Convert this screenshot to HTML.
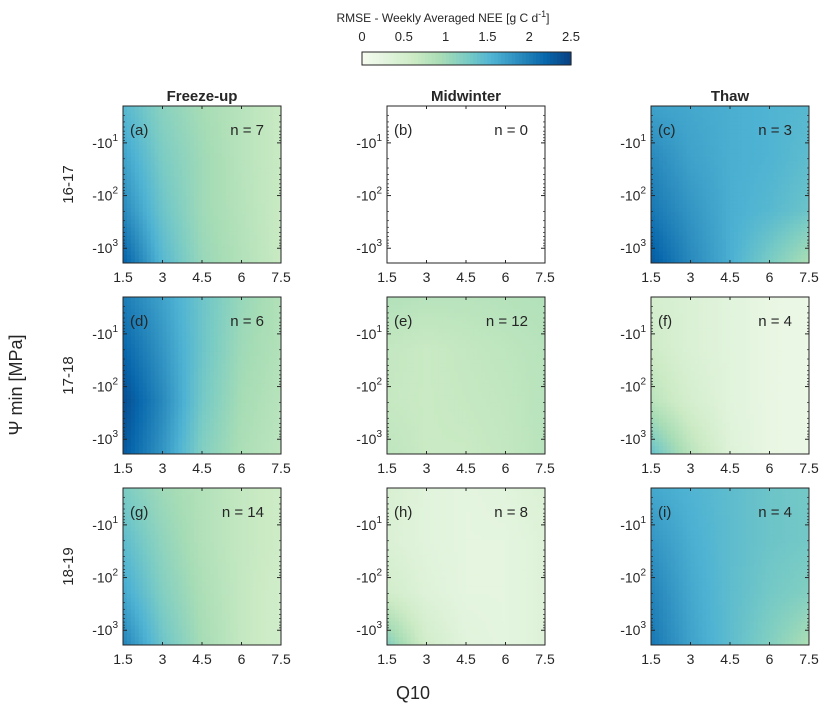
<!DOCTYPE html>
<html><head><meta charset="utf-8"><style>
body{margin:0;background:#fff;}
svg text{font-family:"Liberation Sans",Arial,sans-serif;fill:#262626;}
</style></head><body>
<svg id="fig" width="828" height="709" viewBox="0 0 828 709" xmlns="http://www.w3.org/2000/svg">
<g id="cbar"></g>
<g id="panels"></g>
<text x="413" y="699" font-size="18" text-anchor="middle">Q10</text>
<text transform="translate(22,385) rotate(-90)" font-size="18" text-anchor="middle">Ψ min [MPa]</text>
</svg>
<script>
const NS="http://www.w3.org/2000/svg";
const xTicks=[1.5,3,4.5,6,7.5];
const xTickLabels=["1.5","3","4.5","6","7.5"];
const yTickExps=[1,2,3];
const colTitles=["Freeze-up","Midwinter","Thaw"];
const rowLabels=["16-17","17-18","18-19"];
const panelLabels=["(a)","(b)","(c)","(d)","(e)","(f)","(g)","(h)","(i)"];
const panelN=[7,0,3,6,12,4,14,8,4];
const cbTicks=[0,0.5,1,1.5,2,2.5];
// RMSE grids: rows top->bottom, cols Q10 1.5..7.5
const gA=[[1.5,1.15,0.95,0.8,0.65],[1.7,1.25,1.0,0.8,0.65],[1.9,1.35,1.0,0.82,0.65],[2.25,1.5,1.05,0.85,0.65]];
const gB=null;
const gC=[[1.7,1.65,1.6,1.55,1.5],[1.9,1.7,1.6,1.55,1.45],[2.05,1.8,1.6,1.5,1.35],[2.3,1.9,1.6,1.25,0.9]];
const gD=[[2.0,1.7,1.35,1.05,0.85],[2.2,1.8,1.35,1.0,0.85],[2.4,1.9,1.3,0.95,0.8],[2.3,1.8,1.2,0.9,0.75]];
const gE=[[0.85,0.8,0.8,0.82,0.85],[0.7,0.65,0.7,0.75,0.8],[0.68,0.65,0.68,0.72,0.8],[0.75,0.65,0.65,0.7,0.8]];
const gF=[[0.5,0.4,0.3,0.2,0.15],[0.6,0.4,0.3,0.2,0.15],[0.8,0.5,0.3,0.2,0.15],[1.4,0.8,0.35,0.2,0.15]];
const gG=[[1.25,1.0,0.85,0.7,0.6],[1.45,1.1,0.85,0.7,0.6],[1.65,1.2,0.9,0.7,0.55],[1.95,1.35,0.95,0.7,0.55]];
const gH=[[0.45,0.3,0.25,0.3,0.4],[0.4,0.3,0.25,0.25,0.35],[0.55,0.35,0.25,0.25,0.35],[1.2,0.55,0.3,0.25,0.35]];
const gI=[[1.65,1.55,1.45,1.35,1.3],[1.8,1.6,1.45,1.35,1.3],[1.95,1.65,1.45,1.3,1.2],[2.05,1.7,1.45,1.2,0.9]];
const grids=[gA,gB,gC,gD,gE,gF,gG,gH,gI];

const stops=["#f7fcf0","#e0f3db","#ccebc5","#a8ddb5","#7bccc4","#4eb3d3","#2b8cbe","#0868ac","#084081"];
const sr=stops.map(h=>[1,3,5].map(i=>parseInt(h.substr(i,2),16)));
function cmap(v){let t=Math.max(0,Math.min(1,v/2.5))*(sr.length-1);let i=Math.min(sr.length-2,Math.floor(t));let f=t-i;
 const c=sr[i].map((a,k)=>Math.round(a+(sr[i+1][k]-a)*f));return `rgb(${c[0]},${c[1]},${c[2]})`;}
function el(tag,attrs,parent){const e=document.createElementNS(NS,tag);for(const k in attrs)e.setAttribute(k,attrs[k]);parent.appendChild(e);return e;}

const PW=158,PH=157,colX=[123,387,651],rowY=[106,297,488];
const logTop=0.3,logBot=3.28;
function xs(x0,q){return x0+(q-1.5)/6*PW;}
function ys(y0,lg){return y0+(lg-logTop)/(logBot-logTop)*PH;}
function interp(g,u,v){const R=g.length-1,C=g[0].length-1;let r=v*R,c=u*C;let r0=Math.min(R-1,Math.floor(r)),c0=Math.min(C-1,Math.floor(c));let fr=r-r0,fc=c-c0;
 return (g[r0][c0]*(1-fc)+g[r0][c0+1]*fc)*(1-fr)+(g[r0+1][c0]*(1-fc)+g[r0+1][c0+1]*fc)*fr;}

const cb=document.getElementById('cbar');
const cbX=362,cbW=209,cbY=52,cbH=13,N=60;
for(let i=0;i<N;i++){const r=el('rect',{x:cbX+i*cbW/N,y:cbY,width:cbW/N+0.6,height:cbH,fill:cmap((i+0.5)/N*2.5)},cb);
 
 }
el('rect',{x:cbX,y:cbY,width:cbW,height:cbH,fill:'none',stroke:'#262626','stroke-width':1},cb);
cbTicks.forEach((t,i)=>{const tx=el('text',{x:cbX+t/2.5*cbW,y:41,'font-size':13,'text-anchor':'middle'},cb);tx.textContent=cbTicks[i];
 
 });
const ct=el('text',{x:443,y:22,'font-size':12,'text-anchor':'middle'},cb);
ct.innerHTML='RMSE - Weekly Averaged NEE [g C d<tspan dy="-5" font-size="9">-1</tspan><tspan dy="5">]</tspan>';



const P=document.getElementById('panels');
for(let p=0;p<9;p++){
 const r=Math.floor(p/3),c=p%3,x0=colX[c],y0=rowY[r];
 const g=el('g',{},P);
 
 
 const grid=grids[p];
 if(grid){const n=40;for(let i=0;i<n;i++)for(let j=0;j<n;j++){
   const v=interp(grid,(i+0.5)/n,(j+0.5)/n);
   const cell=el('rect',{x:(x0+i*PW/n).toFixed(2),y:(y0+j*PH/n).toFixed(2),width:(PW/n+0.5).toFixed(2),height:(PH/n+0.5).toFixed(2),fill:cmap(v)},g);
   
   }}
 el('rect',{x:x0,y:y0,width:PW,height:PH,fill:'none',stroke:'#262626','stroke-width':1},g);
 xTicks.forEach((q,i)=>{const X=xs(x0,q);el('line',{x1:X,x2:X,y1:y0+PH,y2:y0+PH-3,stroke:'#262626'},g);el('line',{x1:X,x2:X,y1:y0,y2:y0+3,stroke:'#262626'},g);
  const t=el('text',{x:X,y:y0+PH+19,'font-size':14,'text-anchor':'middle'},g);t.textContent=xTickLabels[i];
  
  });
 yTickExps.forEach(e=>{const Y=ys(y0,e);el('line',{x1:x0,x2:x0+4,y1:Y,y2:Y,stroke:'#262626'},g);el('line',{x1:x0+PW,x2:x0+PW-4,y1:Y,y2:Y,stroke:'#262626'},g);
  const t=el('text',{x:x0-5,y:Y+5,'font-size':14,'text-anchor':'end'},g);t.innerHTML='-10<tspan dy="-7" font-size="10">'+e+'</tspan>';
  
  });
 for(let e=0;e<4;e++)for(let m=2;m<10;m++){const lg=e+Math.log10(m);if(lg<logTop||lg>logBot)continue;const Y=ys(y0,lg);
  el('line',{x1:x0,x2:x0+2,y1:Y,y2:Y,stroke:'#262626','stroke-width':0.7},g);el('line',{x1:x0+PW,x2:x0+PW-2,y1:Y,y2:Y,stroke:'#262626','stroke-width':0.7},g);}
 const a=el('text',{x:x0+7,y:y0+29,'font-size':15},g);a.textContent=panelLabels[p];
 
 
 const nt=el('text',{x:x0+141,y:y0+29,'font-size':15,'text-anchor':'end'},g);nt.textContent='n = '+panelN[p];
 
 
 if(r===0){const t=el('text',{x:x0+PW/2,y:y0-5,'font-size':15,'font-weight':'bold','text-anchor':'middle'},g);t.textContent=colTitles[c];
  
  }
 if(c===0){const t=el('text',{transform:`translate(${x0-50},${y0+PH/2}) rotate(-90)`,'font-size':15,'text-anchor':'middle'},g);t.textContent=rowLabels[r];
  
  }
}
</script>
</body></html>
